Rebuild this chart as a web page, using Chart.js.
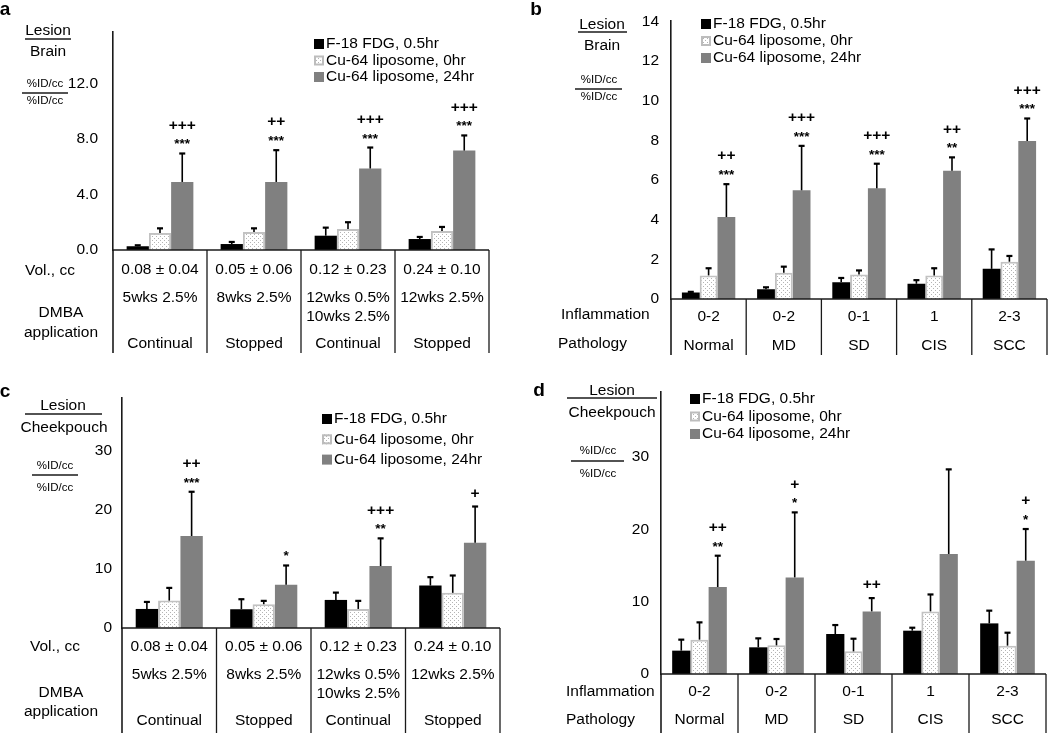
<!DOCTYPE html>
<html>
<head>
<meta charset="utf-8">
<script src="https://cdn.jsdelivr.net/npm/chart.js@4.4.1/dist/chart.umd.min.js"></script>
<style>
  body { margin: 0; background: #fff; }
  #wrap { position: relative; width: 1050px; height: 733px; }
  canvas { position: absolute; }
</style>
</head>
<body>
<div id="wrap">
  <canvas id="cA" width="525" height="366" style="left:0;top:0"></canvas>
  <canvas id="cB" width="525" height="366" style="left:525px;top:0"></canvas>
  <canvas id="cC" width="525" height="367" style="left:0;top:366px"></canvas>
  <canvas id="cD" width="525" height="367" style="left:525px;top:366px"></canvas>
</div>
<script>
"use strict";

var FONT = '"Liberation Sans", Arial, sans-serif';

var seriesNames = ['F-18 FDG, 0.5hr', 'Cu-64 liposome, 0hr', 'Cu-64 liposome, 24hr'];

// table rows under a and c
var volLabels = ['0.08 ± 0.04', '0.05 ± 0.06', '0.12 ± 0.23', '0.24 ± 0.10'];
var dmbaLabels = [['5wks 2.5%'], ['8wks 2.5%'], ['12wks 0.5%', '10wks 2.5%'], ['12wks 2.5%']];
var applyLabels = ['Continual', 'Stopped', 'Continual', 'Stopped'];

// table rows under b and d
var inflamLabels = ['0-2', '0-2', '0-1', '1', '2-3'];
var pathLabels = ['Normal', 'MD', 'SD', 'CIS', 'SCC'];

// a - lesion/brain, by DMBA schedule
var fdgA = [0.27, 0.43, 1.03, 0.79];
var fdgErrA = [0.07, 0.15, 0.58, 0.15];
var lipo0A = [1.23, 1.30, 1.51, 1.37];
var lipo0ErrA = [0.33, 0.26, 0.49, 0.29];
var lipo24A = [4.90, 4.90, 5.87, 7.16];
var lipo24ErrA = [2.05, 2.29, 1.51, 1.09];
var starsA = ['***', '***', '***', '***'];
var plusA = ['+++', '++', '+++', '+++'];

// b - lesion/brain, by pathology
var fdgB = [0.33, 0.49, 0.85, 0.77, 1.52];
var fdgErrB = [0.03, 0.10, 0.21, 0.18, 0.98];
var lipo0B = [1.19, 1.32, 1.24, 1.19, 1.88];
var lipo0ErrB = [0.36, 0.31, 0.20, 0.36, 0.29];
var lipo24B = [4.13, 5.48, 5.58, 6.46, 7.96];
var lipo24ErrB = [1.66, 2.24, 1.24, 0.68, 1.14];
var starsB = ['***', '***', '***', '**', '***'];
var plusB = ['++', '+++', '+++', '++', '+++'];

// c - lesion/cheekpouch, by DMBA schedule
var fdgC = [3.23, 3.18, 4.76, 7.20];
var fdgErrC = [1.19, 1.70, 1.24, 1.42];
var lipo0C = [4.65, 4.03, 3.23, 5.96];
var lipo0ErrC = [2.15, 0.57, 1.37, 2.94];
var lipo24C = [15.6, 7.32, 10.5, 14.46];
var lipo24ErrC = [7.5, 3.28, 4.7, 6.14];
var starsC = ['***', '*', '**', ''];
var plusC = ['++', '', '+++', '+'];

// d - lesion/cheekpouch, by pathology
var fdgD = [3.23, 3.69, 5.53, 5.99, 7.00];
var fdgErrD = [1.52, 1.24, 1.24, 0.41, 1.76];
var lipo0D = [4.75, 3.96, 3.13, 8.66, 3.92];
var lipo0ErrD = [2.39, 0.88, 1.75, 2.34, 1.79];
var lipo24D = [12.03, 13.36, 8.66, 16.6, 15.67];
var lipo24ErrD = [4.33, 8.99, 1.84, 11.7, 4.38];
var starsD = ['**', '*', '', '', '*'];
var plusD = ['++', '+', '++', '', '+'];


function drawText(ctx, str, x, y, size, align, baseline, bold) {
	ctx.font = (bold ? 'bold ' : '') + size + 'px ' + FONT;
	ctx.fillStyle = '#000';
	ctx.textAlign = align || 'center';
	ctx.textBaseline = baseline || 'middle';
	ctx.fillText(str, x, y);
}

function drawLine(ctx, x1, y1, x2, y2) {
	ctx.beginPath();
	ctx.moveTo(x1, y1);
	ctx.lineTo(x2, y2);
	ctx.stroke();
}

function dotPattern(ctx) {
	var tile = document.createElement('canvas');
	tile.width = 4;
	tile.height = 4;
	var g = tile.getContext('2d');
	g.fillStyle = '#fff';
	g.fillRect(0, 0, 4, 4);
	g.fillStyle = '#b4b4b4';
	g.fillRect(0, 0, 1, 1);
	g.fillRect(2, 2, 1, 1);
	return ctx.createPattern(tile, 'repeat');
}

// error bars, significance marks, the table under the axis, side labels and legend
function panelPlugin(p) {
	return {
		id: 'panel' + p.letter,
		afterDatasetsDraw: function (chart) {
			var ctx = chart.ctx, y = chart.scales.y;
			ctx.save();
			ctx.strokeStyle = '#000';
			chart.data.datasets.forEach(function (ds, i) {
				chart.getDatasetMeta(i).data.forEach(function (bar, j) {
					var top = y.getPixelForValue(ds.data[j] + ds.errors[j]);
					ctx.lineWidth = 1.6;
					drawLine(ctx, bar.x, bar.y, bar.x, top);
					ctx.lineWidth = 2.2;
					drawLine(ctx, bar.x - 3, top, bar.x + 3, top);
				});
			});
			var ds = chart.data.datasets[2];
			chart.getDatasetMeta(2).data.forEach(function (bar, j) {
				var slot = y.getPixelForValue(ds.data[j] + ds.errors[j]) - 13;
				if (p.stars[j]) {
					drawText(ctx, p.stars[j], bar.x, slot + 8, 13.5, 'center', 'alphabetic', true);
					slot -= 15;
				}
				if (p.plus[j]) {
					drawText(ctx, p.plus[j], bar.x, slot, 15.5, 'center', 'middle', true);
				}
			});
			ctx.restore();
		},
		afterDraw: function (chart) {
			var ctx = chart.ctx, a = chart.chartArea;
			var n = chart.data.labels.length, w = (a.right - a.left) / n;
			ctx.save();
			ctx.strokeStyle = '#1a1a1a';
			ctx.lineWidth = 1.6;
			drawLine(ctx, a.left, a.bottom, a.right, a.bottom);
			drawLine(ctx, a.left, a.bottom, a.left, p.tableBottom);
			ctx.lineWidth = 1.3;
			for (var k = 1; k <= n; k++) {
				drawLine(ctx, a.left + k * w, a.bottom, a.left + k * w, p.tableBottom);
			}
			p.rows.forEach(function (r) {
				r.cells.forEach(function (c, j) {
					[].concat(c).forEach(function (t, m) {
						drawText(ctx, t, a.left + (j + 0.5) * w, r.y + m * 18.5, 15.5);
					});
				});
			});
			p.side.forEach(function (s) {
				drawText(ctx, s.text, s.x, s.y, s.size || 15.5, s.align, 'middle', s.bold);
			});
			ctx.lineWidth = 1.5;
			p.rules.forEach(function (r) {
				drawLine(ctx, r[0], r[2], r[1], r[2]);
			});
			// legend
			var fills = ['#000', p.dots, '#808080'];
			seriesNames.forEach(function (name, i) {
				var ly = p.legend.y + i * p.legend.dy;
				ctx.fillStyle = fills[i];
				ctx.fillRect(p.legend.x, ly - 5, 10, 10);
				if (i == 1) {
					ctx.strokeStyle = '#bdbdbd';
					ctx.lineWidth = 2;
					ctx.strokeRect(p.legend.x + 1, ly - 4, 8, 8);
				}
				drawText(ctx, name, p.legend.x + 12, ly, 15.5, 'left');
			});
			ctx.restore();
		}
	};
}

function makePanel(p) {
	var canvas = document.getElementById(p.canvas);
	p.dots = dotPattern(canvas.getContext('2d'));
	return new Chart(canvas, {
		type: 'bar',
		data: {
			labels: p.labels,
			datasets: [
				{ label: seriesNames[0], data: p.values[0], errors: p.errors[0], backgroundColor: '#000', borderWidth: 0 },
				{ label: seriesNames[1], data: p.values[1], errors: p.errors[1], backgroundColor: p.dots, borderColor: '#c2c2c2', borderWidth: 2 },
				{ label: seriesNames[2], data: p.values[2], errors: p.errors[2], backgroundColor: '#808080', borderWidth: 0 }
			]
		},
		options: {
			responsive: false,
			animation: false,
			devicePixelRatio: 1,
			layout: {
				padding: { left: 0, top: p.plot.top, right: canvas.width - p.plot.right, bottom: canvas.height - p.plot.bottom }
			},
			datasets: { bar: { categoryPercentage: 0.71, barPercentage: 1.0 } },
			plugins: { legend: { display: false }, tooltip: { enabled: false } },
			scales: {
				x: { display: false },
				y: {
					min: 0,
					max: p.max,
					afterBuildTicks: function (s) {
						s.ticks = p.ticks.map(function (v) { return { value: v }; });
					},
					afterFit: function (s) { s.width = p.plot.left; },
					grid: { display: false, drawTicks: false },
					border: { display: true, color: '#1a1a1a', width: 1.6 },
					ticks: {
						color: '#000',
						padding: p.tickPad,
						font: { family: FONT, size: 15.5 },
						callback: function (v) { return v.toFixed(p.decimals); }
					}
				}
			}
		},
		plugins: [panelPlugin(p)]
	});
}

makePanel({
	letter: 'a', canvas: 'cA', labels: applyLabels,
	values: [fdgA, lipo0A, lipo24A], errors: [fdgErrA, lipo0ErrA, lipo24ErrA],
	stars: starsA, plus: plusA,
	plot: { left: 113, top: 32, right: 489, bottom: 250 },
	max: 15.7, ticks: [0, 4, 8, 12], decimals: 1, tickPad: 15,
	tableBottom: 353,
	rows: [{ y: 270, cells: volLabels }, { y: 298, cells: dmbaLabels }, { y: 344, cells: applyLabels }],
	side: [
		{ text: 'a', x: 5, y: 10, size: 19, bold: true },
		{ text: 'Lesion', x: 48, y: 31 },
		{ text: 'Brain', x: 48, y: 52 },
		{ text: '%ID/cc', x: 45, y: 84, size: 11.5 },
		{ text: '%ID/cc', x: 45, y: 101, size: 11.5 },
		{ text: 'Vol., cc', x: 50, y: 271 },
		{ text: 'DMBA', x: 61, y: 313 },
		{ text: 'application', x: 61, y: 333 }
	],
	rules: [[25, 71, 39], [22, 68, 93]],
	legend: { x: 314, y: 44, dy: 16.5 }
});

makePanel({
	letter: 'b', canvas: 'cB', labels: pathLabels,
	values: [fdgB, lipo0B, lipo24B], errors: [fdgErrB, lipo0ErrB, lipo24ErrB],
	stars: starsB, plus: plusB,
	plot: { left: 146, top: 13, right: 522, bottom: 299 },
	max: 14, ticks: [0, 2, 4, 6, 8, 10, 12, 14], decimals: 0, tickPad: 12,
	tableBottom: 355,
	rows: [{ y: 317, cells: inflamLabels }, { y: 346, cells: pathLabels }],
	side: [
		{ text: 'b', x: 11, y: 10, size: 19, bold: true },
		{ text: 'Lesion', x: 77, y: 25 },
		{ text: 'Brain', x: 77, y: 46 },
		{ text: '%ID/cc', x: 74, y: 80, size: 11.5 },
		{ text: '%ID/cc', x: 74, y: 97, size: 11.5 },
		{ text: 'Inflammation', x: 36, y: 315, align: 'left' },
		{ text: 'Pathology', x: 33, y: 344, align: 'left' }
	],
	rules: [[53, 102, 32], [50, 97, 89]],
	legend: { x: 176, y: 24, dy: 17 }
});

makePanel({
	letter: 'c', canvas: 'cC', labels: applyLabels,
	values: [fdgC, lipo0C, lipo24C], errors: [fdgErrC, lipo0ErrC, lipo24ErrC],
	stars: starsC, plus: plusC,
	plot: { left: 122, top: 32, right: 500, bottom: 262 },
	max: 39, ticks: [0, 10, 20, 30], decimals: 0, tickPad: 10,
	tableBottom: 367,
	rows: [{ y: 281, cells: volLabels }, { y: 309, cells: dmbaLabels }, { y: 355, cells: applyLabels }],
	side: [
		{ text: 'c', x: 5, y: 26, size: 19, bold: true },
		{ text: 'Lesion', x: 63, y: 40 },
		{ text: 'Cheekpouch', x: 64, y: 62 },
		{ text: '%ID/cc', x: 55, y: 100, size: 11.5 },
		{ text: '%ID/cc', x: 55, y: 122, size: 11.5 },
		{ text: 'Vol., cc', x: 55, y: 281 },
		{ text: 'DMBA', x: 61, y: 327 },
		{ text: 'application', x: 61, y: 346 }
	],
	rules: [[25, 102, 48], [32, 78, 109]],
	legend: { x: 322, y: 53, dy: 20.3 }
});

makePanel({
	letter: 'd', canvas: 'cD', labels: pathLabels,
	values: [fdgD, lipo0D, lipo24D], errors: [fdgErrD, lipo0ErrD, lipo24ErrD],
	stars: starsD, plus: plusD,
	plot: { left: 136, top: 26, right: 521, bottom: 308 },
	max: 39, ticks: [0, 10, 20, 30], decimals: 0, tickPad: 12,
	tableBottom: 367,
	rows: [{ y: 326, cells: inflamLabels }, { y: 354, cells: pathLabels }],
	side: [
		{ text: 'd', x: 14, y: 25, size: 19, bold: true },
		{ text: 'Lesion', x: 87, y: 25 },
		{ text: 'Cheekpouch', x: 87, y: 47 },
		{ text: '%ID/cc', x: 73, y: 85, size: 11.5 },
		{ text: '%ID/cc', x: 73, y: 108, size: 11.5 },
		{ text: 'Inflammation', x: 41, y: 326, align: 'left' },
		{ text: 'Pathology', x: 41, y: 354, align: 'left' }
	],
	rules: [[42, 132, 32], [46, 99, 95]],
	legend: { x: 165, y: 33, dy: 17.5 }
});
</script>
</body>
</html>
